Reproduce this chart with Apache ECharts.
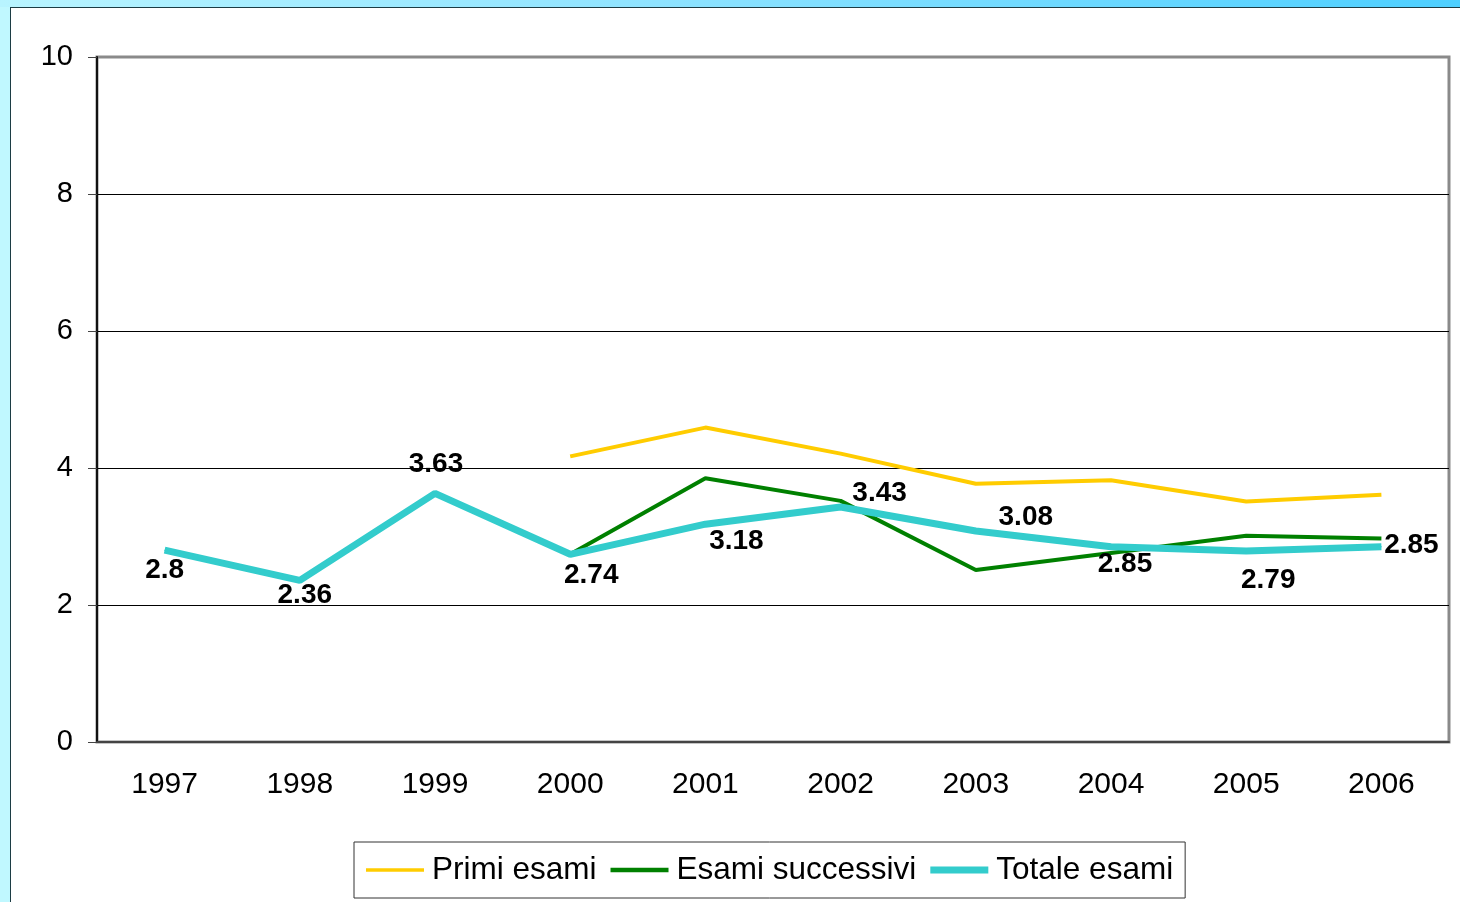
<!DOCTYPE html>
<html>
<head>
<meta charset="utf-8">
<script src="https://cdn.jsdelivr.net/npm/echarts@6/dist/echarts.min.js"></script>
<style>
  html, body { margin: 0; padding: 0; }
  body {
    width: 1460px; height: 902px; overflow: hidden; position: relative;
    background: linear-gradient(to right, #b8f4ff 0%, #8ee3ff 45%, #4dcfff 100%);
  }
  #left-band { position: absolute; left: 0; top: 7px; width: 10px; height: 895px; background: #c0f8ff; }
  #chart {
    position: absolute; left: 10px; top: 7px; width: 1450px; height: 895px;
    background: #fff; border-left: 1px solid #1c3c44; border-top: 1px solid #1c3c44;
  }
</style>
</head>
<body>
<div id="left-band"></div>
<div id="chart"></div>
<script>
// anni
var years = ['1997', '1998', '1999', '2000', '2001', '2002', '2003', '2004', '2005', '2006'];
// valori
var primiEsami = [null, null, null, 4.17, 4.59, 4.21, 3.77, 3.82, 3.51, 3.61];
var esamiSuccessivi = [null, null, null, 2.74, 3.85, 3.52, 2.51, 2.76, 3.01, 2.97];
var totaleEsami = [2.8, 2.36, 3.63, 2.74, 3.18, 3.43, 3.08, 2.85, 2.79, 2.85];
var yTicks = [0, 2, 4, 6, 8, 10];

// spostamento delle etichette rispetto al punto (px)
var labelOffsets = [[0, 20], [5, 15], [1, -29], [21, 21], [31, 17], [39, -14], [50, -14], [14, 18], [22, 29], [30, -1]];

var chart = echarts.init(document.getElementById('chart'));

var totaleData = totaleEsami.map(function (v, i) {
    return {
        value: v,
        label: { offset: labelOffsets[i] }
    };
});

var option = {
    animation: false,
    backgroundColor: '#fff',
    textStyle: { fontFamily: 'Liberation Sans, Arial, sans-serif' },
    grid: {
        left: 86, right: 12, top: 49, bottom: 161,
        show: true, borderColor: '#8a8a8a', borderWidth: 3
    },
    xAxis: {
        type: 'category',
        data: years,
        boundaryGap: true,
        axisLine: { lineStyle: { color: '#444', width: 2 } },
        axisTick: { length: 10, lineStyle: { color: '#444', width: 1 } },
        axisLabel: { color: '#000', fontSize: 30, margin: 28 }
    },
    yAxis: {
        type: 'value',
        min: yTicks[0], max: yTicks[yTicks.length - 1], interval: 2,
        axisLine: { show: true, lineStyle: { color: '#111', width: 2 } },
        axisTick: { show: true, length: 9, lineStyle: { color: '#444' } },
        axisLabel: { color: '#000', fontSize: 29, margin: 24 },
        splitLine: { lineStyle: { color: ['#000', '#000', '#000', '#000', '#000', '#8a8a8a'], width: 1 } }
    },
    legend: {
        left: 343, top: 834,
        padding: [12, 12, 12, 12],
        itemGap: 14,
        itemWidth: 58, itemHeight: 14,
        borderColor: '#333', borderWidth: 1,
        symbolKeepAspect: true,
        textStyle: { color: '#000', fontSize: 31.5, padding: [0, 0, 0, 3] },
        data: [
            { name: 'Primi esami', icon: 'path://M0,0 H58 V3.5 H0 Z' },
            { name: 'Esami successivi', icon: 'path://M0,0 H58 V4.5 H0 Z' },
            { name: 'Totale esami', icon: 'path://M0,0 H58 V7 H0 Z' }
        ]
    },
    series: [
        {
            name: 'Primi esami', type: 'line', data: primiEsami,
            symbol: 'none', color: '#ffcc00',
            lineStyle: { color: '#ffcc00', width: 4 }
        },
        {
            name: 'Esami successivi', type: 'line', data: esamiSuccessivi,
            symbol: 'none', color: '#008000',
            lineStyle: { color: '#008000', width: 4 }
        },
        {
            name: 'Totale esami', type: 'line', data: totaleData,
            symbol: 'circle', symbolSize: 1, color: '#33cccc',
            lineStyle: { color: '#33cccc', width: 7 },
            label: {
                show: true, position: 'inside',
                color: '#000', fontWeight: 'bold', fontSize: 28
            }
        }
    ]
};

chart.setOption(option);
</script>
</body>
</html>
